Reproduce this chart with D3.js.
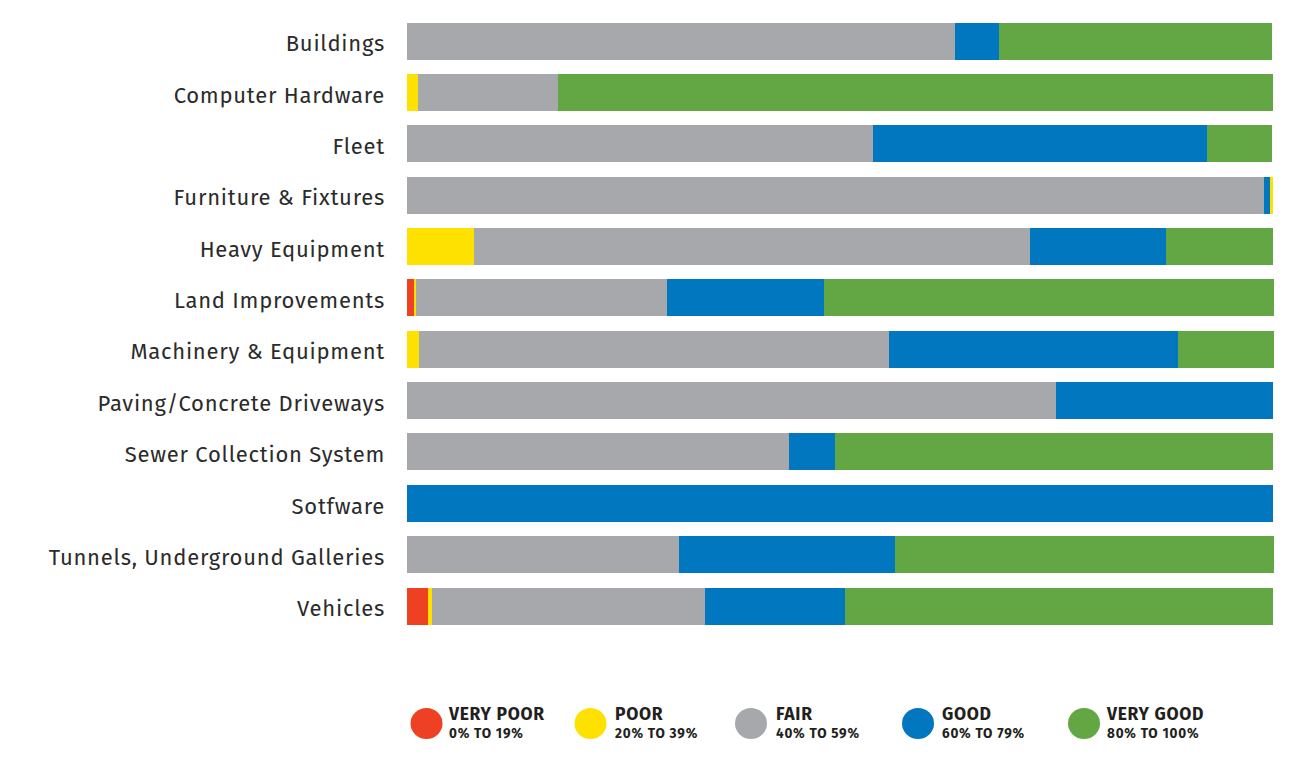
<!DOCTYPE html>
<html>
<head>
<meta charset="utf-8">
<script src="https://cdn.jsdelivr.net/npm/d3@7/dist/d3.min.js"></script>
<style>
  html, body { margin: 0; padding: 0; background: #fff; }
  svg { display: block; }
</style>
</head>
<body>
<svg id="chart" width="1290" height="763"></svg>
<script>
const categories = [
  "Buildings", "Computer Hardware", "Fleet", "Furniture & Fixtures",
  "Heavy Equipment", "Land Improvements", "Machinery & Equipment",
  "Paving/Concrete Driveways", "Sewer Collection System", "Sotfware",
  "Tunnels, Underground Galleries", "Vehicles"
];
const veryPoor = [0,   0,    0,    0,    0,    0.8, 0,    0,    0,    0,   0,    2.4];
const poor     = [0,   1.3,  0,    0.35, 7.7,  0.2, 1.4,  0,    0,    0,   0,    0.5];
const fair     = [63.3,16.1, 53.8, 99.0, 64.2, 29.0,54.3, 74.9, 44.1, 0,   31.4, 31.5];
const good     = [5.1, 0,    38.6, 0.7,  15.7, 18.2,33.3, 25.1, 5.3,  100, 24.9, 16.2];
const veryGood = [31.5,82.6, 7.5,  0,    12.4, 51.9,11.1, 0,    50.6, 0,   43.8, 49.4];

const seriesNames = ["VERY POOR", "POOR", "FAIR", "GOOD", "VERY GOOD"];
const seriesRanges = ["0% TO 19%", "20% TO 39%", "40% TO 59%", "60% TO 79%", "80% TO 100%"];
const seriesValues = [veryPoor, poor, fair, good, veryGood];
const colors = ["#EE4123", "#FFE100", "#A7A8AB", "#0077BF", "#62A744"];
// Furniture & Fixtures shows its small "poor" sliver at the right end
const orderOverrides = { "Furniture & Fixtures": [0, 2, 3, 1, 4] };

const svg = d3.select("#chart");

const x = d3.scaleLinear().domain([0, 100]).range([407, 1273]);
const y = d3.scaleBand().domain(categories).range([15.4, 631.7]).paddingInner(0.28).paddingOuter(0.14);

const segs = [];
categories.forEach((c, i) => {
  const order = orderOverrides[c] || [0, 1, 2, 3, 4];
  let acc = 0;
  order.forEach(k => {
    const v = seriesValues[k][i];
    if (v > 0) segs.push({ cat: c, k, x0: acc, x1: acc + v });
    acc += v;
  });
});

svg.append("g").selectAll("rect").data(segs).join("rect")
  .attr("x", d => x(d.x0))
  .attr("width", d => x(d.x1) - x(d.x0))
  .attr("y", d => y(d.cat))
  .attr("height", y.bandwidth())
  .attr("fill", d => colors[d.k])
  .attr("shape-rendering", "crispEdges");

const yAxis = d3.axisLeft(y).tickSize(0).tickPadding(0);
const ag = svg.append("g").attr("transform", "translate(385,0)").call(yAxis);
ag.select(".domain").remove();
ag.selectAll("text")
  .attr("font-family", "'Fira Sans', 'Noto Sans', 'Open Sans', sans-serif")
  .attr("font-size", 22)
  .attr("letter-spacing", 0.75)
  .attr("dy", 10.2)
  .attr("fill", "#2b2b2b");

// legend
const legX = [426.5, 590.5, 751, 918, 1084];
const legTextX = [449, 615, 776, 942, 1107];
const lg = svg.append("g").selectAll("g").data(seriesNames).join("g");
lg.append("ellipse")
  .attr("cx", (d, i) => legX[i]).attr("cy", 723.5)
  .attr("rx", 16).attr("ry", 15.5).attr("fill", (d, i) => colors[i]);
lg.append("text").attr("x", (d, i) => legTextX[i]).attr("y", 720)
  .attr("font-family", "'Fira Sans', Roboto, 'Noto Sans', sans-serif")
  .attr("font-weight", 700).attr("font-size", 17.5).attr("letter-spacing", 0.7)
  .attr("fill", "#231f20")
  .text(d => d);
lg.append("text").attr("x", (d, i) => legTextX[i]).attr("y", 738)
  .attr("font-family", "'Fira Sans', Roboto, 'Noto Sans', sans-serif")
  .attr("font-weight", 700).attr("font-size", 13.5).attr("letter-spacing", 0.8)
  .attr("fill", "#231f20")
  .text((d, i) => seriesRanges[i]);
</script>
</body>
</html>
